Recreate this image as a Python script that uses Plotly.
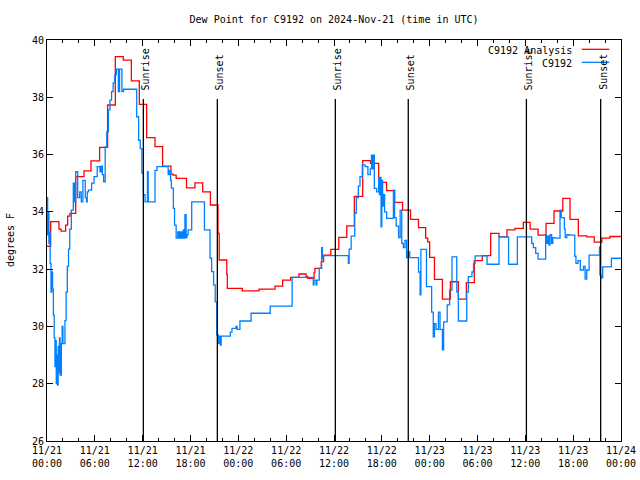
import pandas as pd
import plotly.graph_objects as go

# ---- data (hours since 2024-11-21 00:00 UTC) ----
red_t = [0.0, 0.46, 1.5, 1.76, 2.34, 2.59, 2.88, 3.6, 4.64, 5.52, 6.6, 7.6, 8.57, 9.57, 10.58, 11.58,
         12.5, 13.55, 14.5, 15.55, 15.8, 16.2, 17.5, 18.56, 19.53, 20.5, 21.45, 21.6, 22.55, 22.62,
         24.5, 26.6, 28.6, 29.56, 30.56, 31.6, 32.5, 32.7, 33.5, 33.6, 34.4, 34.7, 35.6, 36.6, 37.6,
         38.55, 39.6, 40.6, 41.6, 42.6, 43.6, 44.6, 45.6, 46.6, 47.5, 47.75, 48.0, 48.6, 49.6, 50.6,
         51.6, 52.6, 53.6, 54.6, 55.65, 56.7, 57.7, 58.7, 59.75, 60.6, 61.6, 62.6, 63.6, 64.7, 65.6,
         66.65, 67.7, 68.65, 69.6, 70.6, 72.0]
red_v = [32.8, 33.66, 33.40, 33.33, 33.54, 33.85, 33.95, 35.23, 35.43, 35.78, 36.25, 37.73, 39.42, 39.30,
         38.57, 37.75, 36.59, 36.28, 35.60, 35.32, 35.28, 35.17, 34.84, 35.01, 34.70, 34.24, 33.25, 32.32,
         31.82, 31.33, 31.24, 31.30, 31.41, 31.62, 31.71, 31.83, 31.75, 31.68, 31.88, 32.03, 32.26, 32.49,
         32.69, 33.11, 33.51, 34.54, 35.79, 35.69, 35.03, 34.74, 34.33, 34.06, 33.74, 33.45, 33.08, 32.95,
         32.41, 31.64, 30.95, 31.56, 30.95, 31.53, 32.30, 32.47, 33.25, 33.13, 33.37, 33.42, 33.63, 33.40,
         33.19, 33.60, 34.03, 34.47, 33.74, 33.16, 33.13, 32.94, 33.08, 33.14, 33.14]

blue_t = [0.0, 0.08, 0.16, 0.24, 0.32, 0.4, 0.5, 0.6, 0.7, 0.8, 0.9, 1.0, 1.08, 1.16, 1.24, 1.32, 1.4,
          1.48, 1.56, 1.64, 1.8, 1.9, 2.0, 2.25, 2.4, 2.55, 2.7, 2.85, 3.05, 3.3, 3.45, 3.6, 3.85, 4.1,
          4.3, 4.5, 4.8, 4.95, 5.05, 5.2, 5.6, 5.9, 6.3, 6.65, 6.8, 6.95, 7.1, 7.3, 7.5, 7.7, 7.9, 8.1,
          8.3, 8.5, 8.7, 8.95, 9.1, 9.4, 9.6, 11.25, 11.5, 11.7, 11.9, 12.1, 12.3, 12.6, 12.7, 13.55,
          13.8, 15.2, 15.35, 15.5, 15.6, 15.85, 16.0, 16.2, 16.4, 16.5, 16.6, 16.7, 16.85, 16.95, 17.1,
          17.25, 17.3, 17.35, 17.4, 17.45, 17.55, 17.7, 18.15, 19.75, 20.45, 20.65, 20.9, 21.1, 21.3,
          21.5, 21.6, 21.75, 21.85, 23.0, 23.2, 23.7, 23.85, 24.2, 25.6, 28.0, 30.75, 33.4, 33.5, 33.75,
          33.85, 34.15, 34.45, 34.55, 34.65, 37.8, 37.9, 38.15, 38.6, 38.8, 39.05, 39.26, 39.55, 39.9,
          40.25, 40.55, 40.7, 40.85, 40.95, 41.06, 41.35, 41.6, 41.7, 41.8, 41.9, 42.0, 42.1, 42.2,
          42.35, 42.6, 43.45, 43.6, 43.8, 44.1, 44.3, 44.5, 44.7, 44.9, 45.1, 45.3, 45.5, 46.6, 46.8,
          46.9, 47.6, 48.25, 48.45, 48.6, 48.8, 49.1, 49.3, 49.6, 49.75, 50.2, 50.5, 50.8, 51.4, 51.6,
          52.65, 52.85, 53.3, 53.5, 53.7, 55.2, 56.7, 57.9, 59.0, 60.8, 61.0, 61.3, 61.6, 62.55, 62.65,
          62.8, 62.95, 63.1, 63.3, 63.45, 63.7, 64.35, 64.5, 64.9, 65.0, 65.2, 65.5, 66.2, 66.35, 66.6,
          66.9, 67.3, 67.5, 67.7, 68.0, 69.3, 69.35, 69.5, 69.7, 70.8, 72.0]
blue_v = [34.5, 33.2, 34.0, 32.9, 33.3, 32.2, 31.2, 31.9, 31.3, 30.4, 29.6, 28.6, 29.5, 28.0, 29.0, 27.95,
          29.3, 28.4, 29.6, 28.3, 29.4, 30.0, 29.4, 30.2, 31.2, 32.1, 32.7, 33.4, 34.06, 35.0, 34.35, 35.4,
          34.5, 34.7, 34.35, 35.1, 34.5, 34.35, 34.7, 34.76, 35.0, 35.23, 35.58, 35.4, 35.6, 35.3, 35.05,
          36.27, 36.8, 37.56, 37.9, 38.2, 38.5, 38.78, 38.98, 38.2, 38.98, 38.2, 38.28, 37.32, 36.5, 36.21,
          35.35, 34.6, 34.35, 35.4, 34.35, 35.45, 35.58, 35.3, 35.45, 35.1, 34.83, 34.12, 33.54, 33.08,
          33.3, 33.08, 33.3, 33.08, 33.3, 33.08, 33.37, 33.08, 33.9, 33.1, 33.9, 33.1, 33.2, 33.37, 34.35,
          33.37, 32.38, 31.91, 31.45, 30.86, 29.7, 29.4, 29.66, 29.35, 29.66, 29.8, 29.93, 30.0, 29.9,
          30.19, 30.46, 30.71, 31.71, 31.45, 31.62, 31.45, 31.62, 32.03, 32.75, 32.35, 32.47, 32.2, 32.7,
          33.15, 33.96, 34.5, 34.9, 35.23, 35.64, 35.58, 35.3, 35.5, 35.98, 35.5, 35.98, 34.82, 34.7,
          35.2, 34.6, 35.2, 33.48, 35.1, 34.2, 34.6, 34.0, 33.77, 34.76, 33.8, 33.5, 33.1, 34.06, 32.9,
          32.75, 33.0, 32.4, 32.6, 32.4, 31.9, 31.1, 32.69, 31.39, 30.5, 29.64, 30.1, 29.9, 30.5, 29.9,
          29.18, 30.16, 30.75, 31.27, 32.43, 31.21, 30.19, 31.2, 31.74, 31.9, 32.2, 32.46, 32.17, 33.13,
          32.17, 33.13, 32.9, 32.75, 32.55, 32.35, 33.2, 32.9, 33.15, 32.85, 33.2, 32.9, 33.1, 33.08,
          34.06, 33.8, 33.4, 33.1, 33.2, 33.19, 32.45, 32.2, 32.3, 31.97, 32.1, 31.65, 31.97, 32.49,
          32.78, 31.8, 31.7, 32.08, 32.38, 32.38]

sun_times = ["2024-11-21 12:05", "2024-11-21 21:22", "2024-11-22 12:10",
             "2024-11-22 21:19", "2024-11-23 12:08", "2024-11-23 21:27"]
sun_labels = ["Sunrise", "Sunset", "Sunrise", "Sunset", "Sunrise", "Sunset"]

y_ticks = [26, 28, 30, 32, 34, 36, 38, 40]

base = pd.Timestamp("2024-11-21 00:00")
red_x = base + pd.to_timedelta(red_t, unit="h")
blue_x = base + pd.to_timedelta(blue_t, unit="h")

FONT = "DejaVu Sans Mono"

fig = go.Figure()
fig.add_trace(go.Scatter(x=red_x, y=red_v, mode="lines", line=dict(color="#ff0000", width=1.3, shape="hv"),
                         name="C9192 Analysis", showlegend=False))
fig.add_trace(go.Scatter(x=blue_x, y=blue_v, mode="lines", line=dict(color="#0080ff", width=1.3, shape="hv"),
                         name="C9192", showlegend=False))

# sunrise / sunset markers
for t, lab in zip(sun_times, sun_labels):
    fig.add_shape(type="line", xref="x", yref="paper", x0=t, x1=t, y0=0, y1=0.853,
                  line=dict(color="black", width=1.3))
    fig.add_annotation(x=t, xref="x", y=0.870, yref="paper", text=lab, textangle=-90,
                       showarrow=False, xanchor="center", yanchor="bottom", xshift=2,
                       font=dict(family=FONT, size=10, color="black"))

# legend drawn gnuplot style (text right, sample on the right)
fig.add_annotation(x=0.918, y=0.975, xref="paper", yref="paper", text="C9192 Analysis",
                   showarrow=False, xanchor="right", yanchor="middle",
                   font=dict(family=FONT, size=10, color="black"))
fig.add_annotation(x=0.918, y=0.9426, xref="paper", yref="paper", text="C9192",
                   showarrow=False, xanchor="right", yanchor="middle",
                   font=dict(family=FONT, size=10, color="black"))
fig.add_shape(type="line", xref="paper", yref="paper", x0=0.9315, x1=0.9797, y0=0.9768, y1=0.9768,
              line=dict(color="#ff0000", width=1.3))
fig.add_shape(type="line", xref="paper", yref="paper", x0=0.9315, x1=0.9797, y0=0.9444, y1=0.9444,
              line=dict(color="#0080ff", width=1.3))

# y-axis title
fig.add_annotation(x=-0.0645, y=0.501, xref="paper", yref="paper", text="degrees F", textangle=-90,
                   showarrow=False, xanchor="center", yanchor="middle",
                   font=dict(family=FONT, size=10, color="black"))

fig.update_layout(
    width=640, height=480,
    margin=dict(l=47, r=19, t=40, b=39, autoexpand=False),
    paper_bgcolor="white", plot_bgcolor="white",
    font=dict(family=FONT, size=10, color="black"),
    title=dict(text="Dew Point for C9192 on 2024-Nov-21 (time in UTC)", x=0.522, xanchor="center",
               y=0.96, yanchor="middle", font=dict(family=FONT, size=10, color="black")),
    showlegend=False,
)
fig.update_xaxes(
    range=["2024-11-21 00:00", "2024-11-24 00:00"],
    tickmode="linear", tick0="2024-11-21 00:00", dtick=6 * 3600 * 1000,
    tickformat="%m/%d<br>%H:%M",
    ticks="inside", ticklen=6, tickwidth=1, tickcolor="black",
    minor=dict(dtick=2 * 3600 * 1000, ticks="inside", ticklen=3, tickcolor="black", showgrid=False),
    showline=True, linecolor="black", linewidth=1, mirror="ticks",
    showgrid=False, zeroline=False, automargin=False,
    tickfont=dict(family=FONT, size=10, color="black"),
)
fig.update_yaxes(
    range=[26, 40], tickmode="array", tickvals=y_ticks, ticktext=[str(v) for v in y_ticks],
    ticks="inside", ticklen=6, tickwidth=1, tickcolor="black",
    showline=True, linecolor="black", linewidth=1, mirror="ticks",
    showgrid=False, zeroline=False, automargin=False,
    tickfont=dict(family=FONT, size=10, color="black"),
)

fig.write_html("out.html", config={"displayModeBar": False},
               post_script="document.body.style.margin='0';")
